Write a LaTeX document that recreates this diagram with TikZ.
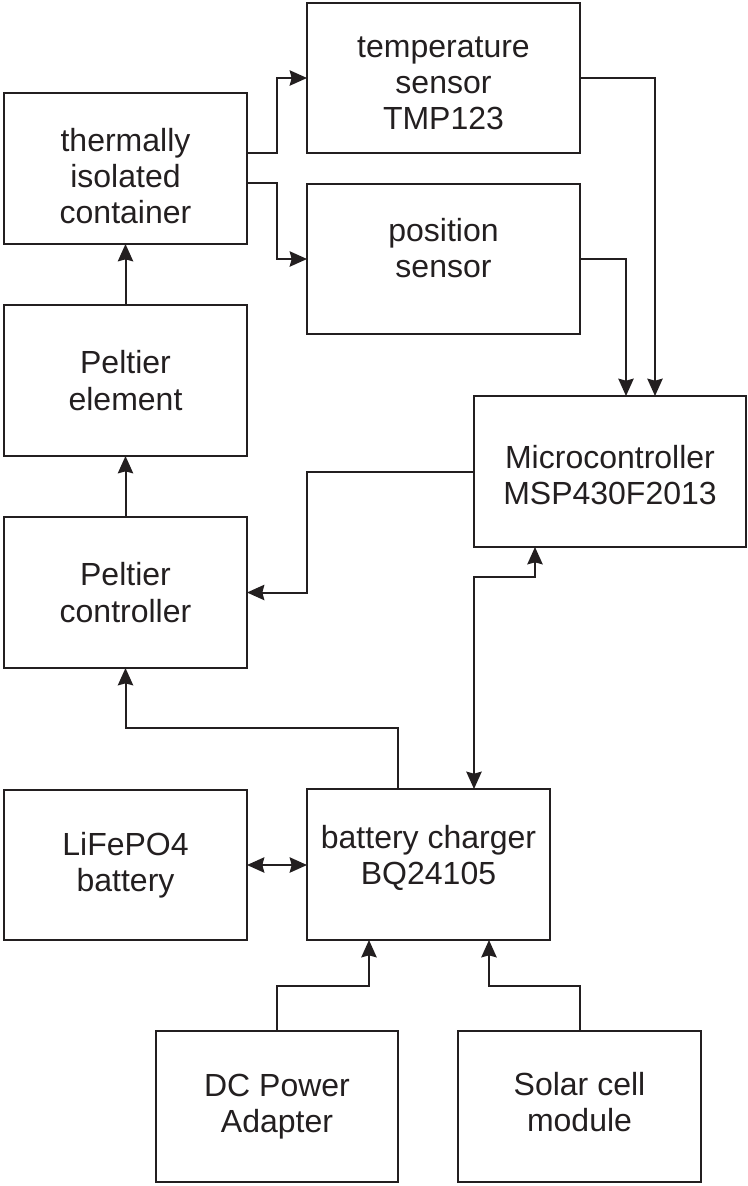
\documentclass[tikz,border=0pt]{standalone}
\usepackage{fontspec}
\setmainfont{Liberation Sans}
\usetikzlibrary{arrows.meta,calc}
\definecolor{ink}{RGB}{35,31,32}
\begin{document}
\begin{tikzpicture}[x=0.75pt,y=-0.75pt,
  box/.style={draw=ink, line width=1.5pt, inner sep=0pt, outer sep=0pt},
  txt/.style={align=center, inner sep=0pt, font=\fontsize{24}{27.2}\selectfont, text=ink},
  arr/.style={draw=ink, line width=1.5pt, -{Stealth[length=13pt,width=11.5pt,inset=1.5pt]}},
  arrtwo/.style={draw=ink, line width=1.5pt, {Stealth[length=13pt,width=11.5pt,inset=1.5pt]}-{Stealth[length=13pt,width=11.5pt,inset=1.5pt]}}
]
\useasboundingbox (0,0) rectangle (747,1186);
% boxes (pixel coordinates, y downwards)
\node[box, minimum width=204.75pt, minimum height=112.5pt] (temp) at (443.5,78) {};
\node[box, minimum width=182.25pt, minimum height=113.25pt] (cont) at (125.5,168.5) {};
\node[box, minimum width=204.75pt, minimum height=112.5pt] (pos) at (443.5,259) {};
\node[box, minimum width=182.25pt, minimum height=113.25pt] (pel) at (125.5,380.5) {};
\node[box, minimum width=204pt, minimum height=113.25pt] (mcu) at (610,471.5) {};
\node[box, minimum width=182.25pt, minimum height=113.25pt] (ctrl) at (125.5,592.5) {};
\node[box, minimum width=182.25pt, minimum height=112.5pt] (bat) at (125.5,865) {};
\node[box, minimum width=182.25pt, minimum height=113.25pt] (chg) at (428.5,864.5) {};
\node[box, minimum width=181.5pt, minimum height=113.25pt] (dc) at (277,1106.5) {};
\node[box, minimum width=182.25pt, minimum height=113.25pt] (sol) at (579.5,1106.5) {};
% texts
\node[txt] (tempT) at ($(temp.center)+(0,5.5)$) {temperature\\sensor\\TMP123};
\node[txt] (contT) at ($(cont.center)+(0,7.5)$) {thermally\\isolated\\container};
\node[txt] (posT) at ($(pos.center)+(0,-11)$) {position\\sensor};
\node[txt] (pelT) at (pel.center) {Peltier\\element};
\node[txt] (mcuT) at ($(mcu.center)+(0,3.5)$) {Microcontroller\\MSP430F2013};
\node[txt] (ctrlT) at (ctrl.center) {Peltier\\controller};
\node[txt] (batT) at (bat.center) {LiFePO4\\battery};
\node[txt] (chgT) at ($(chg.center)+(0,-6.5)$) {battery charger\\BQ24105};
\node[txt] (dcT) at (dc.center) {DC Power\\Adapter};
\node[txt] (solT) at ($(sol.center)+(0,-4.5)$) {Solar cell\\module};
% connectors
\draw[arr] ($(cont.north east)+(0,60)$) -- ++(30,0) |- (temp.west);
\draw[arr] ($(cont.north east)+(0,90)$) -- ++(30,0) |- (pos.west);
\draw[arr] (temp.east) -| ($(mcu.north)+(45,0)$);
\draw[arr] (pos.east) -| ($(mcu.north)+(16,0)$);
\draw[arr] (pel.north) -- (cont.south);
\draw[arr] (ctrl.north) -- (pel.south);
\draw[arr] (mcu.west) -- ++(-167,0) |- (ctrl.east);
\draw[arr] ($(chg.north)+(-30.5,0)$) -- ++(0,-61) -| (ctrl.south);
\draw[arrtwo] ($(chg.north)+(45.5,0)$) -- ++(0,-212) -| ($(mcu.south)+(-75,0)$);
\draw[arrtwo] (bat.east) -- (bat.east -| chg.west);
\draw[arr] (dc.north) -- ++(0,-45) -| ($(chg.south)+(-59.5,0)$);
\draw[arr] (sol.north) -- ++(0,-45) -| ($(chg.south)+(60.5,0)$);
\end{tikzpicture}
\end{document}
